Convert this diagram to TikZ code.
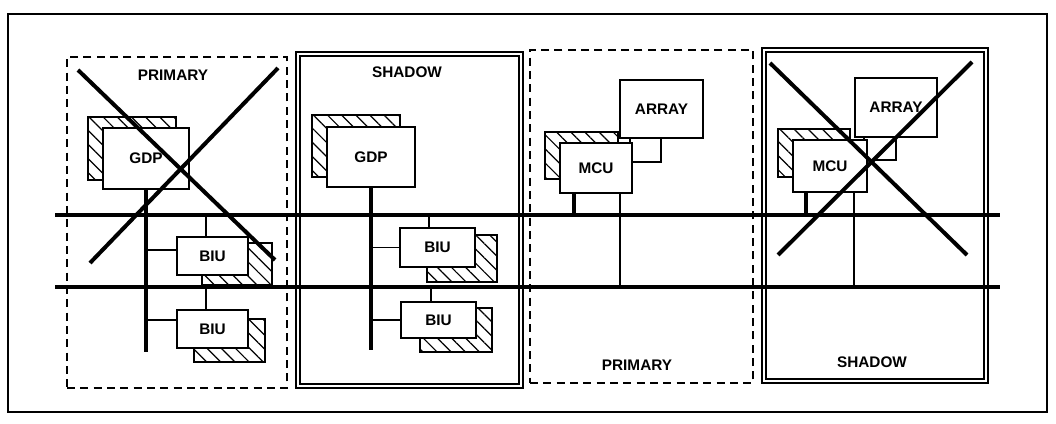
\documentclass[tikz,border=0pt]{standalone}
\usepackage{fontspec}
\setmainfont{Liberation Sans}
\usetikzlibrary{fit,patterns.meta,calc}
\begin{document}
\begin{tikzpicture}[x=0.75pt,y=-0.75pt,
  lbl/.style={font=\bfseries\fontsize{11.5}{13}\selectfont,inner sep=0pt},
  box/.style={draw,fill=white,line width=1.3pt,inner sep=0pt},
  hatch/.style={draw,line width=1.3pt,inner sep=0pt,fill=white,postaction={pattern={Lines[angle=-45,distance=7.5pt,line width=0.9pt]}}},
  dashpanel/.style={draw,dash pattern=on 6pt off 4pt,line width=1.2pt,inner sep=0pt},
  dblpanel/.style={draw,double,double distance=2.0pt,line width=1.1pt,inner sep=0pt},
  bus/.style={line width=3pt},
  cross/.style={line width=3pt},
  thinline/.style={line width=1.1pt},
  stem/.style={line width=2.6pt}]
\useasboundingbox (0,0) rectangle (1056,424);
\draw[line width=1.4pt] (8,14) rectangle (1047,412);

% panels
\node[dashpanel, fit={(67,57) (287,388)}] (p1) {};
\node[dblpanel, fit={(298,54) (521,386)}] (p2) {};
\node[dashpanel, fit={(530,50) (753,383)}] (p3) {};
\node[dblpanel, fit={(764,50) (986,381)}] (p4) {};

\node[lbl] (l1) at (173,75) {PRIMARY};
\node[lbl] (l2) at (407,72) {SHADOW};
\node[lbl] (l3) at (637,365) {PRIMARY};
\node[lbl] (l4) at (872,362) {SHADOW};

% buses
\coordinate (busAL) at (55,215);
\coordinate (busAR) at (1000,215);
\coordinate (busBL) at (55,287);
\coordinate (busBR) at (1000,287);
\draw[bus] (busAL) -- (busAR);
\draw[bus] (busBL) -- (busBR);

% ---------- panel 1 ----------
\node[hatch, fit={(88,117) (176,180)}] (gdp1s) {};
\node[box, fit={(103,128) (189,189)}, label={[lbl]center:GDP}] (gdp1) {};
\coordinate (e1) at (146,352);
\draw[stem] (gdp1.south) -- (e1);
\node[hatch, fit={(202,243) (272,285)}] (biu1as) {};
\node[box, fit={(177,237) (248,275)}, label={[lbl]center:BIU}] (biu1a) {};
\node[hatch, fit={(194,319) (265,362)}] (biu1bs) {};
\node[box, fit={(177,310) (248,348)}, label={[lbl]center:BIU}] (biu1b) {};
\coordinate (c1a) at ($(biu1a.north west)+(0,14)$);
\coordinate (c1b) at ($(biu1b.north west)+(0,11)$);
\draw[thinline] (c1a -| gdp1.south) -- (c1a);
\draw[thinline] (c1b -| gdp1.south) -- (c1b);
\coordinate (t1a) at ($(biu1a.north west)+(30,0)$);
\coordinate (t1b) at ($(biu1b.north west)+(30,0)$);
\draw[thinline] (t1a |- busAL) -- (t1a);
\draw[thinline] (t1b |- busBL) -- (t1b);

% ---------- panel 2 ----------
\node[hatch, fit={(312,115) (400,177)}] (gdp2s) {};
\node[box, fit={(327,127) (415,187)}, label={[lbl]center:GDP}] (gdp2) {};
\coordinate (e2) at (371,350);
\draw[stem] (gdp2.south) -- (e2);
\node[hatch, fit={(427,235) (497,282)}] (biu2as) {};
\node[box, fit={(400,228) (475,267)}, label={[lbl]center:BIU}] (biu2a) {};
\node[hatch, fit={(420,308) (492,352)}] (biu2bs) {};
\node[box, fit={(401,302) (476,338)}, label={[lbl]center:BIU}] (biu2b) {};
\draw[thinline] (biu2a.west -| gdp2.south) -- (biu2a.west);
\draw[thinline] (biu2b.west -| gdp2.south) -- (biu2b.west);
\coordinate (t2a) at ($(biu2a.north west)+(30,0)$);
\coordinate (t2b) at ($(biu2b.north west)+(31,0)$);
\draw[thinline] (t2a |- busAL) -- (t2a);
\draw[thinline] (t2b |- busBL) -- (t2b);

% ---------- panel 3 ----------
\node[box, fit={(630,132) (661,162)}] (mem3) {};
\node[box, fit={(620,80) (703,138)}, label={[lbl]center:ARRAY}] (arr3) {};
\node[hatch, fit={(545,132) (618,179)}] (mcu3s) {};
\node[box, fit={(560,143) (632,193)}, label={[lbl]center:MCU}] (mcu3) {};
\coordinate (s3) at ($(mcu3.south west)+(15,0)$);
\coordinate (v3) at ($(mcu3.south east)+(-13,0)$);
\draw[stem] (s3) -- (s3 |- busAL);
\draw[thinline] (v3) -- (v3 |- busBL);

% ---------- panel 4 ----------
\node[box, fit={(864,130) (896,160)}] (mem4) {};
\node[box, fit={(855,78) (937,137)}, label={[lbl]center:ARRAY}] (arr4) {};
\node[hatch, fit={(778,129) (850,177)}] (mcu4s) {};
\node[box, fit={(793,140) (867,192)}, label={[lbl]center:MCU}] (mcu4) {};
\coordinate (s4) at ($(mcu4.south west)+(14,0)$);
\coordinate (v4) at ($(mcu4.south east)+(-14,0)$);
\draw[stem] (s4) -- (s4 |- busAL);
\draw[thinline] (v4) -- (v4 |- busBL);

% crosses
\coordinate (x1a) at (78,70);  \coordinate (x1b) at (275,260);
\coordinate (x1c) at (278,68); \coordinate (x1d) at (90,263);
\draw[cross] (x1a) -- (x1b);
\draw[cross] (x1c) -- (x1d);
\coordinate (x4a) at (770,63);  \coordinate (x4b) at (967,255);
\coordinate (x4c) at (972,62);  \coordinate (x4d) at (778,255);
\draw[cross] (x4a) -- (x4b);
\draw[cross] (x4c) -- (x4d);
\end{tikzpicture}
\end{document}
